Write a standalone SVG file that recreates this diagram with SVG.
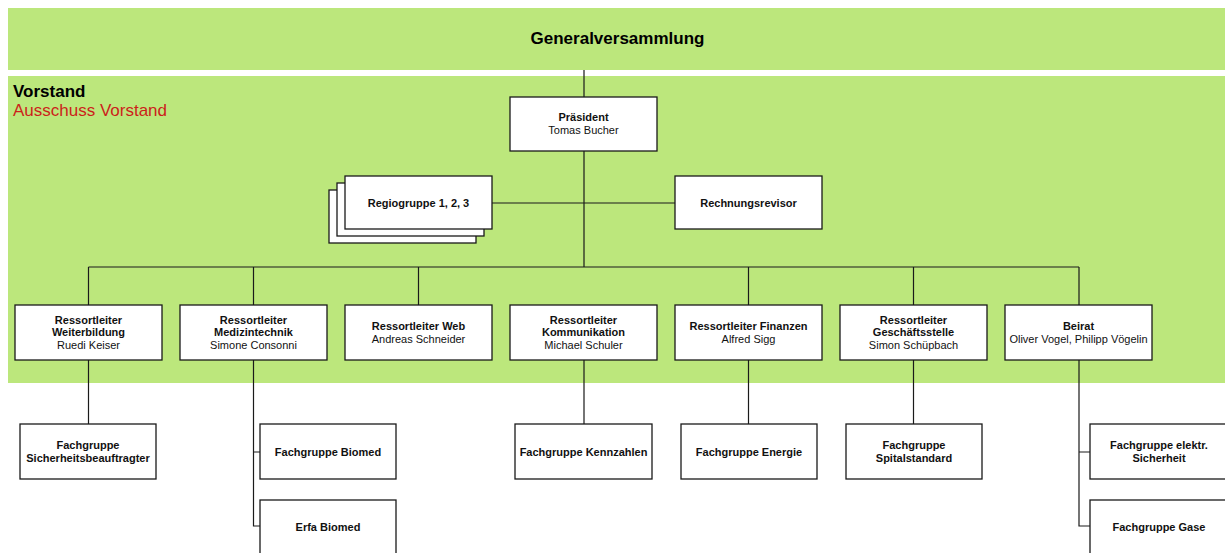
<svg xmlns="http://www.w3.org/2000/svg" width="1225" height="553" viewBox="0 0 1225 553">
<style>
.box{fill:#fff;stroke:#1a1a1a;stroke-width:1.3}
.t{font-family:"Liberation Sans",Arial,sans-serif;font-size:11px;fill:#111;text-anchor:middle}
.b{font-weight:bold}
.conn{fill:none;stroke:#1a1a1a;stroke-width:1.2}
</style>
<rect width="1225" height="553" fill="#fff"/>
<rect id="generalversammlung" x="8" y="8" width="1217" height="62" fill="#bce77c"/>
<text x="617.5" y="44" font-family="Liberation Sans, Arial, sans-serif" font-size="17" font-weight="bold" text-anchor="middle" fill="#000">Generalversammlung</text>
<g id="vorstand">
<rect x="8" y="76" width="1217" height="307" fill="#bce77c"/>
<text x="13" y="97" font-family="Liberation Sans, Arial, sans-serif" font-size="17" font-weight="bold" fill="#000">Vorstand</text>
<text x="13" y="116" font-family="Liberation Sans, Arial, sans-serif" font-size="17" fill="#cc1f1a">Ausschuss Vorstand</text>
</g>
<g id="connectors" class="conn">
<path d="M584 70V97M584 151V267M492 203H675M88.5 267H1079M88.5 267V305M253.5 267V305M418.5 267V305M748.5 267V305M913.5 267V305M1079 267V305"/>
<path d="M88.5 360V424M253.5 360V526H260M253.5 452H260M584 360V424M748.5 360V424M913.5 360V424M1079 360V526H1090M1079 452H1090"/>
</g>
<g id="praesident"><rect class="box" x="510" y="97" width="147" height="54"/>
<text class="t b" x="583.5" y="121">Präsident</text><text class="t" x="583.5" y="134">Tomas Bucher</text></g>
<g id="regiogruppe">
<rect class="box" x="329" y="190" width="147" height="53"/>
<rect class="box" x="337" y="183" width="147" height="53"/>
<rect class="box" x="345" y="176" width="147" height="53"/>
<text class="t b" x="418.5" y="207">Regiogruppe 1, 2, 3</text></g>
<g id="rechnungsrevisor"><rect class="box" x="675" y="176" width="147" height="53"/>
<text class="t b" x="748.5" y="207">Rechnungsrevisor</text></g>
<g id="weiterbildung"><rect class="box" x="15" y="305" width="147" height="55"/>
<text class="t b" x="88.5" y="324">Ressortleiter</text><text class="t b" x="88.5" y="336">Weiterbildung</text><text class="t" x="88.5" y="349">Ruedi Keiser</text></g>
<g id="medizintechnik"><rect class="box" x="180" y="305" width="147" height="55"/>
<text class="t b" x="253.5" y="324">Ressortleiter</text><text class="t b" x="253.5" y="336">Medizintechnik</text><text class="t" x="253.5" y="349">Simone Consonni</text></g>
<g id="web"><rect class="box" x="345" y="305" width="147" height="55"/>
<text class="t b" x="418.5" y="330">Ressortleiter Web</text><text class="t" x="418.5" y="343">Andreas Schneider</text></g>
<g id="kommunikation"><rect class="box" x="510" y="305" width="147" height="55"/>
<text class="t b" x="583.5" y="324">Ressortleiter</text><text class="t b" x="583.5" y="336">Kommunikation</text><text class="t" x="583.5" y="349">Michael Schuler</text></g>
<g id="finanzen"><rect class="box" x="675" y="305" width="147" height="55"/>
<text class="t b" x="748.5" y="330">Ressortleiter Finanzen</text><text class="t" x="748.5" y="343">Alfred Sigg</text></g>
<g id="geschaeftsstelle"><rect class="box" x="840" y="305" width="147" height="55"/>
<text class="t b" x="913.5" y="324">Ressortleiter</text><text class="t b" x="913.5" y="336">Geschäftsstelle</text><text class="t" x="913.5" y="349">Simon Schüpbach</text></g>
<g id="beirat"><rect class="box" x="1005" y="305" width="147" height="55"/>
<text class="t b" x="1078.5" y="330">Beirat</text><text class="t" x="1078.5" y="343">Oliver Vogel, Philipp Vögelin</text></g>
<g id="fg-sicherheitsbeauftragter"><rect class="box" x="20" y="424" width="136" height="55"/>
<text class="t b" x="88" y="449">Fachgruppe</text><text class="t b" x="88" y="462">Sicherheitsbeauftragter</text></g>
<g id="fg-biomed"><rect class="box" x="260" y="424" width="136" height="55"/>
<text class="t b" x="328" y="456">Fachgruppe Biomed</text></g>
<g id="erfa-biomed"><rect class="box" x="260" y="500" width="136" height="60"/>
<text class="t b" x="328" y="531">Erfa Biomed</text></g>
<g id="fg-kennzahlen"><rect class="box" x="515" y="424" width="137" height="55"/>
<text class="t b" x="583.5" y="456">Fachgruppe Kennzahlen</text></g>
<g id="fg-energie"><rect class="box" x="681" y="424" width="136" height="55"/>
<text class="t b" x="749" y="456">Fachgruppe Energie</text></g>
<g id="fg-spitalstandard"><rect class="box" x="846" y="424" width="136" height="55"/>
<text class="t b" x="914" y="449">Fachgruppe</text><text class="t b" x="914" y="462">Spitalstandard</text></g>
<g id="fg-elektr"><rect class="box" x="1090" y="424" width="136" height="55"/>
<text class="t b" x="1159" y="449">Fachgruppe elektr.</text><text class="t b" x="1159" y="462">Sicherheit</text></g>
<g id="fg-gase"><rect class="box" x="1090" y="500" width="136" height="60"/>
<text class="t b" x="1159" y="531">Fachgruppe Gase</text></g>
</svg>
